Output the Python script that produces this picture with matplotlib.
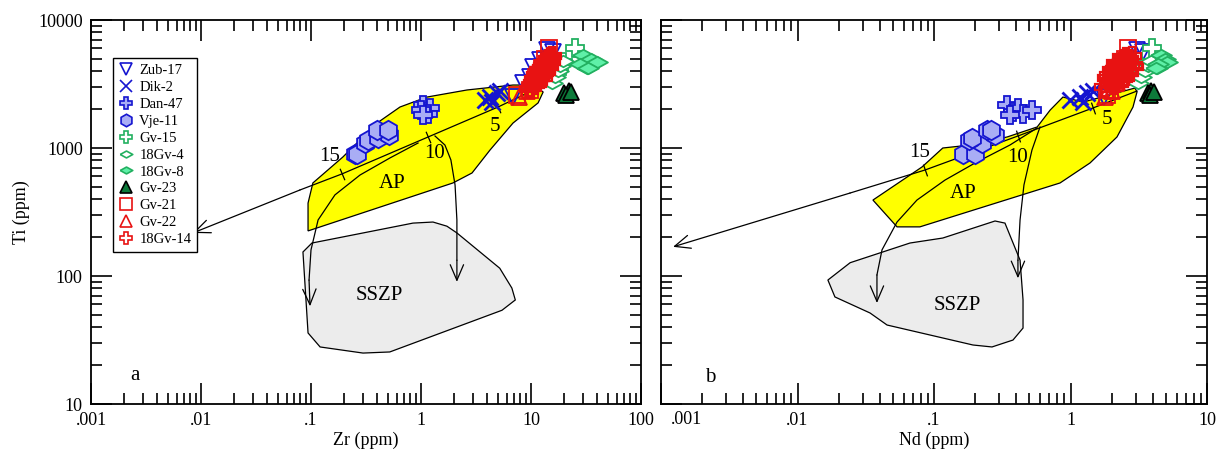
import numpy as np
import matplotlib
matplotlib.use('Agg')
import matplotlib.pyplot as plt
from matplotlib.ticker import FixedLocator, LogLocator, NullFormatter

plt.rcParams['font.family'] = ['Liberation Serif', 'DejaVu Serif']

# sample data: Ti shared, Zr for panel a, Nd for panel b
zub17_ti = [2500, 3220, 3590, 4300, 5840, 5600, 4870]
zub17_zr = [6.86, 8.45, 9.8, 10.4, 14.0, 15.9, 12.1]
zub17_nd = [1.75, 2.2, 2.4, 2.6, 3.07, 3.4, 2.73]

dik2_ti = [2370, 2500, 2700, 2800, 2290]
dik2_zr = [3.82, 4.24, 4.91, 5.2, 4.42]
dik2_nd = [0.99, 1.17, 1.32, 1.46, 1.24]

dan47_ti = [2170, 1910, 2054, 1850, 1980, 1800]
dan47_zr = [1.05, 1.09, 1.21, 1.15, 1.0, 1.04]
dan47_nd = [0.343, 0.38, 0.41, 0.45, 0.52, 0.36]

vje11_ti = [890, 900, 1100, 1155, 1200, 1260, 1380, 1380]
vje11_zr = [0.25, 0.26, 0.31, 0.33, 0.41, 0.51, 0.40, 0.50]
vje11_nd = [0.163, 0.20, 0.225, 0.18, 0.19, 0.28, 0.244, 0.26]

gv15_ti = [6000, 4700, 3900, 4200]
gv15_zr = [25, 19.7, 17.2, 18]
gv15_nd = [3.95, 3.2, 3.0, 3.4]

gv18_4_ti = [3200, 3600, 4000, 4400, 4800, 4250]
gv18_4_zr = [15.5, 16.5, 17.5, 18.5, 19.5, 32]
gv18_4_nd = [3.1, 3.3, 3.5, 3.7, 3.9, 4.3]

gv18_8_ti = [5300, 5000, 4700, 4500, 4200]
gv18_8_zr = [30, 35, 40, 28, 33]
gv18_8_nd = [4.6, 4.9, 5.1, 4.4, 4.2]

gv23_ti = [2700, 2800, 2600, 2750]
gv23_zr = [20, 22, 21, 23]
gv23_nd = [3.7, 3.9, 3.8, 4.1]

gv21_ti = [6000, 2600, 2850, 4200, 3600, 5000]
gv21_zr = [14.5, 7.5, 9.8, 12.5, 11, 13.5]
gv21_nd = [2.63, 1.85, 1.95, 2.3, 2.1, 2.5]

gv22_ti = [2500, 2800, 3300, 3900]
gv22_zr = [7.8, 9.2, 10.5, 12]
gv22_nd = [1.8, 2.0, 2.2, 2.4]

gv18_14_ti = [3000, 3200, 3400, 3600, 3800, 4000, 4200, 4400, 4600, 4800,
              5000, 5200, 3300, 3700, 4100, 4500, 3500, 3900, 4300, 4700,
              3100, 3450, 3750, 4050, 4350, 4650, 4950, 5100, 3550, 3850,
              4150, 4450, 2900, 3650, 4250]
gv18_14_zr = [10.0, 10.5, 11.0, 11.5, 12.0, 12.5, 13.0, 13.5, 14.0, 14.5,
              15.0, 15.5, 11.5, 12.5, 11.8, 13.0, 12.8, 13.8, 14.5, 15.2,
              10.8, 10.6, 11.2, 12.2, 12.9, 13.4, 14.2, 14.8, 12.0, 13.2,
              13.6, 14.0, 9.6, 11.0, 12.6]
gv18_14_nd = [1.75, 1.9, 2.0, 2.1, 2.2, 2.3, 2.4, 2.5, 2.6, 2.6,
              2.7, 2.8, 2.3, 1.9, 2.6, 2.2, 2.5, 2.1, 2.9, 2.4,
              2.05, 2.2, 2.35, 2.0, 2.75, 2.15, 2.45, 2.55, 1.85, 2.7,
              2.25, 2.85, 1.95, 2.45, 2.15]

# fields (AP, SSZP) and melting curves, panel a (Zr)
ap_a_x = [0.094, 0.094, 0.104, 0.195, 0.398, 0.644, 1.13, 2.62, 6.86, 10.4, 12.9, 11.6, 6.86, 4.24, 2.91, 1.95]
ap_a_y = [225, 371, 533, 851, 1566, 2090, 2500, 2840, 3105, 3105, 2740, 2250, 1566, 964, 638, 533]
sszp_a_x = [0.0845, 0.102, 0.267, 0.845, 1.285, 1.72, 2.12, 5.2, 6.7, 7.2, 5.45, 0.52, 0.297, 0.121, 0.094]
sszp_a_y = [154, 181, 213, 259, 264, 245, 217, 115, 80.5, 65, 54, 25.5, 25, 27.9, 35.9]
mix_a_x = [0.00845, 0.0794, 0.191, 1.16, 5.01, 16.5]
mix_a_y = [217, 470, 627, 1219, 2090, 3400]
ticks_a_x = [0.191, 1.16, 5.01]
ticks_a_y = [627, 1219, 2090]
melt_labels = ['15', '10', '5']
melt_a_lx = [0.149, 1.34, 4.71]
melt_a_ly = [851, 898, 1460]
curve1_a_x = [0.94, 0.522, 0.279, 0.165, 0.116, 0.1, 0.096, 0.098]
curve1_a_y = [1094, 836, 615, 430, 274, 160, 93, 58]
curve2_a_x = [1.34, 1.65, 1.87, 2.04, 2.12, 2.12, 2.12]
curve2_a_y = [1241, 1055, 806, 514, 274, 133, 90]

# panel b (Nd)
ap_b_x = [0.0357, 0.0536, 0.0788, 0.838, 1.39, 2.19, 2.87, 3.07, 2.97, 1.24, 0.88, 0.71, 0.57, 0.343, 0.184, 0.116, 0.0817]
ap_b_y = [392, 242, 242, 533, 764, 1219, 2090, 2740, 2942, 2286, 2500, 1980, 1460, 1219, 1055, 1000, 711]
sszp_b_x = [0.0167, 0.0188, 0.034, 0.0453, 0.193, 0.266, 0.379, 0.449, 0.449, 0.427, 0.331, 0.28, 0.116, 0.0667, 0.0243]
sszp_b_y = [93, 68.6, 51.4, 41.4, 28.9, 27.9, 31.6, 39.2, 65, 133, 259, 269, 198, 181, 127]
mix_b_x = [0.001225, 0.0243, 0.0859, 0.412, 1.46, 3.07]
mix_b_y = [169, 445, 673, 1241, 2054, 2787]
ticks_b_x = [0.0859, 0.412, 1.46]
ticks_b_y = [673, 1241, 2054]
melt_b_lx = [0.0788, 0.406, 1.85]
melt_b_ly = [930, 836, 1655]
curve1_b_x = [0.569, 0.36, 0.2, 0.1205, 0.075, 0.0536, 0.0416, 0.0382, 0.0382]
curve1_b_y = [1433, 1055, 764, 562, 392, 264, 160, 102, 61.5]
curve2_b_x = [0.598, 0.522, 0.456, 0.427, 0.412, 0.412]
curve2_b_y = [1460, 964, 514, 274, 133, 96]

blue = '#1515d0'
lav = '#a9adf5'
green = '#22b060'
lgreen = '#5ff0a8'
dgreen = '#0d7a3a'
red = '#e81212'

flat_diamond = [(-1, 0), (0, 0.55), (1, 0), (0, -0.55), (-1, 0)]

styles = [
    ('Zub-17', dict(marker='v', ms=12, mfc='none', mec=blue, mew=1.3)),
    ('Dik-2', dict(marker='x', ms=11, mfc='none', mec=blue, mew=2.0)),
    ('Dan-47', dict(marker='P', ms=13, mfc=lav, mec=blue, mew=1.3)),
    ('Vje-11', dict(marker='h', ms=14, mfc=lav, mec=blue, mew=1.3)),
    ('Gv-15', dict(marker='P', ms=13, mfc='white', mec=green, mew=1.3)),
    ('18Gv-4', dict(marker=flat_diamond, ms=15, mfc='white', mec=green, mew=1.3)),
    ('18Gv-8', dict(marker=flat_diamond, ms=15, mfc=lgreen, mec=green, mew=1.3)),
    ('Gv-23', dict(marker='^', ms=12, mfc=dgreen, mec='black', mew=1.3)),
    ('Gv-21', dict(marker='s', ms=12, mfc='none', mec=red, mew=1.3)),
    ('Gv-22', dict(marker='^', ms=12, mfc='none', mec=red, mew=1.3)),
    ('18Gv-14', dict(marker='P', ms=13, mfc='none', mec=red, mew=1.6)),
]
ti_sets = [zub17_ti, dik2_ti, dan47_ti, vje11_ti, gv15_ti, gv18_4_ti, gv18_8_ti,
           gv23_ti, gv21_ti, gv22_ti, gv18_14_ti]
zr_sets = [zub17_zr, dik2_zr, dan47_zr, vje11_zr, gv15_zr, gv18_4_zr, gv18_8_zr,
           gv23_zr, gv21_zr, gv22_zr, gv18_14_zr]
nd_sets = [zub17_nd, dik2_nd, dan47_nd, vje11_nd, gv15_nd, gv18_4_nd, gv18_8_nd,
           gv23_nd, gv21_nd, gv22_nd, gv18_14_nd]

fig = plt.figure(figsize=(12.28, 4.65), dpi=100)
axA = fig.add_axes([91/1228, 61/465, 550/1228, 384/465])
axB = fig.add_axes([661/1228, 61/465, 546/1228, 384/465])

arrow_kw = dict(arrowstyle='->,head_length=0.7,head_width=0.3', mutation_scale=16,
                lw=0.9, color='black', shrinkA=0, shrinkB=0)


def draw_panel(ax, xs, ap_x, ap_y, ss_x, ss_y, mx, my, tx, ty, lx, ly, c1x, c1y, c2x, c2y,
               ap_xy, ss_xy, angle):
    ax.fill(ap_x, ap_y, facecolor='#ffff00', edgecolor='black', lw=0.9, zorder=1)
    ax.fill(ss_x, ss_y, facecolor='#ececec', edgecolor='black', lw=0.9, zorder=1)
    ax.text(ap_xy[0], ap_xy[1], 'AP', fontsize=15, ha='center', va='center', zorder=2)
    ax.text(ss_xy[0], ss_xy[1], 'SSZP', fontsize=15, ha='center', va='center', zorder=2)

    # mixing line with melting ticks
    ax.plot(mx[1:], my[1:], color='black', lw=0.9, zorder=2)
    ax.annotate('', xy=(mx[0], my[0]), xytext=(mx[1], my[1]), arrowprops=arrow_kw, zorder=2)
    ax.plot(tx, ty, ls='none', marker=(2, 0, angle), ms=9, mec='black', mew=0.9, zorder=2)
    for lab, a, b in zip(melt_labels, lx, ly):
        ax.text(a, b, lab, fontsize=15, ha='center', va='center', zorder=2)

    for cx, cy in [(c1x, c1y), (c2x, c2y)]:
        ax.plot(cx[:-1], cy[:-1], color='black', lw=0.9, zorder=2)
        ax.annotate('', xy=(cx[-1], cy[-1]), xytext=(cx[-2], cy[-2]), arrowprops=arrow_kw, zorder=2)

    for (name, st), xv, tv in zip(styles, xs, ti_sets):
        ax.plot(xv, tv, ls='none', label=name, zorder=3, **st)

    ax.set_xscale('log')
    ax.set_yscale('log')
    ax.set_ylim(10, 10000)
    ax.yaxis.set_major_locator(FixedLocator([10, 100, 1000, 10000]))
    ax.yaxis.set_minor_locator(LogLocator(base=10, subs=np.arange(2, 10)))
    ax.xaxis.set_minor_locator(LogLocator(base=10, subs=np.arange(2, 10)))
    ax.yaxis.set_minor_formatter(NullFormatter())
    ax.xaxis.set_minor_formatter(NullFormatter())
    ax.tick_params(which='both', direction='in', top=True, right=True, width=1.2)
    ax.tick_params(which='major', length=15, labelsize=13, pad=6)
    ax.tick_params(which='minor', length=8)
    for s in ax.spines.values():
        s.set_linewidth(1.3)


draw_panel(axA, zr_sets, ap_a_x, ap_a_y, sszp_a_x, sszp_a_y, mix_a_x, mix_a_y,
           ticks_a_x, ticks_a_y, melt_a_lx, melt_a_ly, curve1_a_x, curve1_a_y,
           curve2_a_x, curve2_a_y, (0.55, 530), (0.42, 71), 22.8)
draw_panel(axB, nd_sets, ap_b_x, ap_b_y, sszp_b_x, sszp_b_y, mix_b_x, mix_b_y,
           ticks_b_x, ticks_b_y, melt_b_lx, melt_b_ly, curve1_b_x, curve1_b_y,
           curve2_b_x, curve2_b_y, (0.163, 445), (0.147, 59), 19.3)

axA.set_xlim(0.001, 100)
axA.xaxis.set_major_locator(FixedLocator([0.001, 0.01, 0.1, 1, 10, 100]))
axA.set_xticklabels(['.001', '.01', '.1', '1', '10', '100'])
axA.set_yticklabels(['10', '100', '1000', '10000'])
axA.set_xlabel('Zr (ppm)', fontsize=13, labelpad=2)
axA.set_ylabel('Ti (ppm)', fontsize=13, labelpad=6)
axA.text(0.08, 0.075, 'a', transform=axA.transAxes, fontsize=15, ha='center', va='center')

axB.set_xlim(0.001, 10)
axB.xaxis.set_major_locator(FixedLocator([0.001, 0.01, 0.1, 1, 10]))
axB.set_xticklabels(['', '.01', '.1', '1', '10'])
axB.text(0.046, -0.018, '.001', transform=axB.transAxes, fontsize=13, ha='center', va='top')
axB.set_yticklabels([])
axB.set_xlabel('Nd (ppm)', fontsize=13, labelpad=2)
axB.text(0.09, 0.068, 'b', transform=axB.transAxes, fontsize=15, ha='center', va='center')

leg = axA.legend(loc='upper left', bbox_to_anchor=(0.04, 0.90), borderaxespad=0,
                 fontsize=10.5, fancybox=False, edgecolor='black', framealpha=1,
                 handlelength=1.0, handletextpad=0.4, labelspacing=0.25,
                 borderpad=0.4, numpoints=1)
leg.get_frame().set_linewidth(1.0)
for h in leg.legend_handles:
    h.set_markersize(9)
    h.set_markeredgewidth(1.2)
leg.legend_handles[-1].set_markerfacecolor('white')

fig.savefig('out.png', dpi=100)
